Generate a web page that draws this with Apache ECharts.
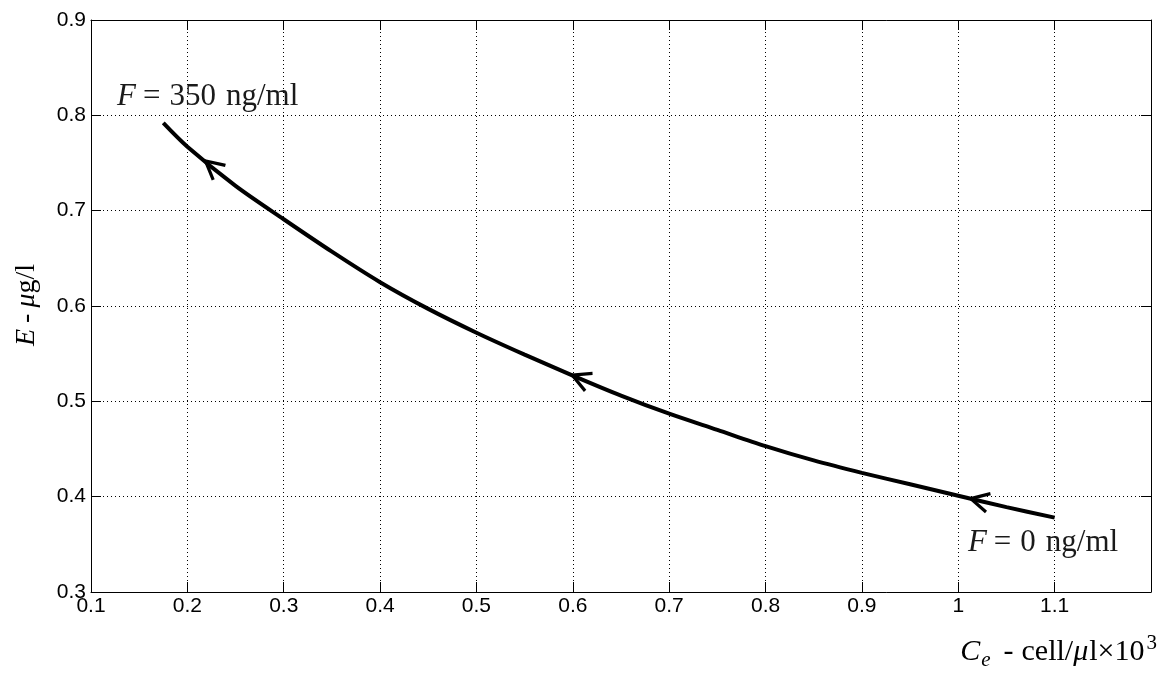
<!DOCTYPE html>
<html>
<head>
<meta charset="utf-8">
<script src="https://cdn.jsdelivr.net/npm/echarts@6/dist/echarts.min.js"></script>
<style>
html,body{margin:0;padding:0;background:#fff;}
#chart{width:1176px;height:673px;}
</style>
</head>
<body>
<div id="chart"></div>
<script>
// Curve: Ce (cell/ul x 10^3) vs E (ug/l)
const ceValues = [0.175, 0.2, 0.25, 0.3, 0.35, 0.4, 0.45, 0.5, 0.55, 0.6, 0.65, 0.7, 0.75, 0.8, 0.85, 0.9, 0.95, 1.0, 1.05, 1.1];
const eValues  = [0.792, 0.767, 0.726, 0.691, 0.657, 0.625, 0.597, 0.572, 0.549, 0.527, 0.506, 0.487, 0.470, 0.453, 0.438, 0.425, 0.413, 0.401, 0.389, 0.378];
// Direction arrows placed along the curve
const arrowCe = [0.226, 0.608, 1.022];
const arrowE  = [0.746, 0.5238, 0.3958];
const arrowAngle = [40, 23, 13.5];
// Annotations
const annotTexts = ['{i|F}{eq|=}{r|350}{u|ng/ml}', '{i|F}{eq|=}{r|0}{u|ng/ml}'];
const annotCe = [0.127, 1.010];
const annotE  = [0.819, 0.352];
const xTicks = { min: 0.1, max: 1.2, step: 0.1 };
const yTicks = { min: 0.3, max: 0.9, step: 0.1 };

const serif = 'Liberation Serif';
const sans = 'Liberation Sans';
const tc = '#1a1a1a';
const richSerif = {
  i: { fontFamily: serif, fontStyle: 'italic', fontSize: 31, color: tc },
  eq: { fontFamily: serif, fontSize: 31, color: tc, padding: [0, 9, 0, 7] },
  r: { fontFamily: serif, fontSize: 31, color: tc },
  u: { fontFamily: serif, fontSize: 31, color: tc, padding: [0, 0, 0, 10] }
};

const chart = echarts.init(document.getElementById('chart'), null, { renderer: 'canvas' });

const fmt = v => {
  const r = Math.round(v * 10) / 10;
  if (r > 1.15) return '';
  return String(r);
};

const tickStyle = { show: true, inside: true, length: 10, lineStyle: { color: '#000', width: 1 } };
const lineAxis = { show: true, lineStyle: { color: '#000', width: 1 } };
const gridLine = { show: true, lineStyle: { color: '#000', width: 1, type: [1, 3] } };

const option = {
  animation: false,
  backgroundColor: '#fff',
  grid: { left: 91, right: 25, top: 20, bottom: 81, containLabel: false },
  xAxis: [
    {
      type: 'value', min: xTicks.min, max: xTicks.max, interval: xTicks.step,
      axisLine: lineAxis, axisTick: tickStyle, splitLine: gridLine,
      axisLabel: { formatter: fmt, fontFamily: sans, fontSize: 21, color: '#000', margin: 4, showMaxLabel: false }
    },
    {
      type: 'value', position: 'top', min: xTicks.min, max: xTicks.max, interval: xTicks.step,
      axisLine: lineAxis, axisTick: tickStyle, splitLine: { show: false }, axisLabel: { show: false }
    }
  ],
  yAxis: [
    {
      type: 'value', min: yTicks.min, max: yTicks.max, interval: yTicks.step,
      axisLine: lineAxis, axisTick: tickStyle, splitLine: gridLine,
      axisLabel: { formatter: fmt, fontFamily: sans, fontSize: 21, color: '#000', margin: 5 }
    },
    {
      type: 'value', position: 'right', min: yTicks.min, max: yTicks.max, interval: yTicks.step,
      axisLine: lineAxis, axisTick: tickStyle, splitLine: { show: false }, axisLabel: { show: false }
    }
  ],
  series: [
    {
      type: 'line',
      data: ceValues.map((c, i) => [c, eValues[i]]),
      showSymbol: false,
      smooth: 0.3,
      lineStyle: { color: '#000', width: 4 },
      z: 3
    },
    {
      type: 'scatter',
      data: arrowCe.map((c, i) => ({ value: [c, arrowE[i]], symbolRotate: -arrowAngle[i] })),
      symbol: 'path://M18,0 L0,9.5 L18,19',
      symbolSize: [18, 19],
      itemStyle: { color: 'rgba(0,0,0,0)', borderColor: '#000', borderWidth: 3.2, opacity: 1 },
      z: 4
    },
    {
      type: 'scatter',
      data: annotCe.map((c, i) => ({ value: [c, annotE[i]], label: { formatter: annotTexts[i] } })),
      symbolSize: 0,
      itemStyle: { color: '#000', opacity: 1 },
      label: { show: true, position: 'right', distance: 0, color: tc, textBorderWidth: 0, rich: richSerif },
      z: 5
    }
  ],
  graphic: [
    {
      type: 'text',
      x: 1157, y: 652,
      style: {
        text: '{i|C}{sub|e}{r|-}{r2|cell/}{i|μ}{r3|l×10}{sup|3}',
        align: 'right', verticalAlign: 'middle',
        rich: {
          i: { fontFamily: serif, fontStyle: 'italic', fontSize: 30, color: tc, lineHeight: 38 },
          r: { fontFamily: serif, fontSize: 30, color: tc, lineHeight: 38, padding: [0, 0, 0, 4] },
          r2: { fontFamily: serif, fontSize: 30, color: tc, lineHeight: 38, padding: [0, 0, 0, 8] },
          r3: { fontFamily: serif, fontSize: 30, color: tc, lineHeight: 38, padding: [0, 0, 0, 1] },
          sub: { fontFamily: serif, fontStyle: 'italic', fontSize: 21, color: tc, verticalAlign: 'bottom', lineHeight: 21, padding: [0, 9, 0, 1] },
          sup: { fontFamily: serif, fontSize: 21, color: tc, verticalAlign: 'top', lineHeight: 21, padding: [0, 0, 0, 2] }
        }
      }
    },
    {
      type: 'text',
      x: 27, y: 305,
      rotation: Math.PI / 2,
      style: {
        text: '{i|E}{r|-}{i2|μ}{r2|g/l}',
        align: 'center', verticalAlign: 'middle',
        rich: {
          i: { fontFamily: serif, fontStyle: 'italic', fontSize: 28, color: tc },
          r: { fontFamily: serif, fontSize: 28, color: tc, padding: [0, 6, 0, 6] },
          i2: { fontFamily: serif, fontStyle: 'italic', fontSize: 28, color: tc },
          r2: { fontFamily: serif, fontSize: 28, color: tc }
        }
      }
    }
  ]
};
chart.setOption(option);
</script>
</body>
</html>
